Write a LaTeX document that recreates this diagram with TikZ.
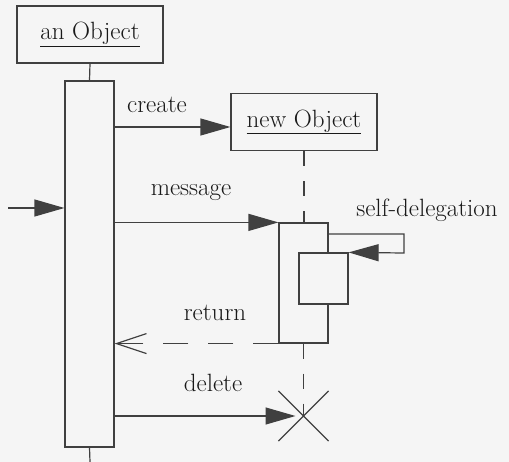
\documentclass[tikz,border=0pt]{standalone}
\usetikzlibrary{arrows.meta,positioning,shapes.misc}
\definecolor{paper}{gray}{0.96}

\begin{document}
\begin{tikzpicture}[x=1pt, y=-1pt, line width=1.2pt, color=black!75,
  every node/.style={font=\fontsize{25}{30}\selectfont, text=black!90},
  objbox/.style={draw, fill=paper, minimum width=146pt, minimum height=57pt, inner sep=0pt},
  actbar/.style={draw, fill=paper, minimum width=49pt, inner sep=0pt},
  msg/.style={-{Triangle[length=30pt,width=17pt]}},
  reply/.style={dash pattern=on 25pt off 20pt, -{Straight Barb[length=30pt,width=20pt]}},
  lifeline/.style={dash pattern=on 15pt off 15pt}]
  \fill[paper] (0,0) rectangle (509,462);
  \useasboundingbox (0,0) rectangle (509,462);

  % objects
  \node[objbox] (anobj) at (90,34.5) {\underline{an Object}};
  \node[objbox] (newobj) at (304,122) {\underline{new Object}};
  \node[cross out, draw, minimum size=49pt, inner sep=0pt] (kill) at (303.5,416) {};
  \coordinate (found) at (8,208);
  \coordinate (tail) at (90,462);
  \coordinate (turn) at (404,253);

  % activations
  \node[actbar, minimum height=366pt] (bar1) at (89.5,264) {};
  \draw[lifeline] (newobj.south) -- (newobj.south |- 0,223);
  \node[actbar, minimum height=120pt] (bar2) at (303.5,283) {};
  \node[actbar, minimum height=51pt] (bar3) at (323.5,278.5) {};
  \draw[lifeline] (bar2.south) -- (kill.center);
  \draw (anobj.south) -- (bar1.north);
  \draw (bar1.south) -- (tail);

  % messages
  \draw[msg] (bar1.east |- 0,127) -- (newobj.west |- 0,127);
  \draw[msg] (found) -- (found -| bar1.west);
  \draw[msg] (bar1.east |- bar2.north) -- (bar2.north west);
  \draw[msg] (bar2.east |- 0,234) -| (turn) -- (bar3.north east);
  \draw[reply] (bar2.south west) -- (bar1.east |- bar2.south);
  \draw[msg, shorten >=8pt] (bar1.east |- kill) -- (kill.center);

  % labels
  \node (lcreate) at (157,105) {create};
  \node (lmessage) at (191,192) {message};
  \node (lself) at (427,210) {self-delegation};
  \node (lreturn) at (215,313) {return};
  \node (ldelete) at (213,383) {delete};
\end{tikzpicture}
\end{document}
